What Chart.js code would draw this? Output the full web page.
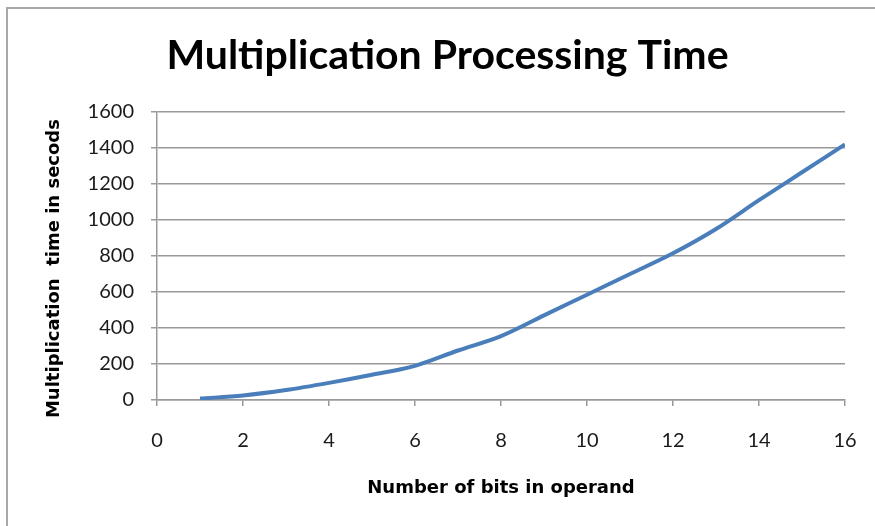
<!DOCTYPE html>
<html>
<head>
<meta charset="utf-8">
<script src="https://cdn.jsdelivr.net/npm/chart.js@4"></script>
<style>
  html, body { margin: 0; padding: 0; background: #fff; }
  #wrap { width: 875px; height: 526px; position: relative; }
</style>
</head>
<body>
<div id="wrap"><canvas id="c" width="875" height="526"></canvas></div>
<script>
const bits = [1, 2, 3, 4, 5, 6, 7, 8, 9, 10, 11, 12, 13, 14, 15, 16];
const seconds = [8, 25, 55, 95, 140, 190, 275, 355, 470, 585, 700, 815, 950, 1110, 1265, 1420];
const chartTitle = 'Multiplication Processing Time';
const xTitle = 'Number of bits in operand';
const yTitle = 'Multiplication  time in secods';

const TITLE_FONT = 'Lato, "Liberation Sans", sans-serif';
const AXIS_FONT = '"DejaVu Sans", "Open Sans", sans-serif';
const TICK_FONT = 'Lato, "Liberation Sans", sans-serif';

const frame = {
  id: 'frame',
  beforeDraw(chart) {
    const ctx = chart.ctx;
    ctx.save();
    ctx.fillStyle = '#fff';
    ctx.fillRect(0, 0, chart.width, chart.height);
    ctx.strokeStyle = '#a8a8a8';
    ctx.lineWidth = 2;
    ctx.beginPath();
    ctx.moveTo(7, chart.height);
    ctx.lineTo(7, 8);
    ctx.lineTo(chart.width, 8);
    ctx.stroke();
    ctx.restore();
  }
};

new Chart(document.getElementById('c'), {
  type: 'scatter',
  data: {
    datasets: [{
      data: bits.map((b, i) => ({ x: b, y: seconds[i] })),
      showLine: true,
      borderColor: '#4a7ebb',
      borderWidth: 4,
      pointRadius: 0,
      cubicInterpolationMode: 'monotone',
      fill: false
    }]
  },
  options: {
    responsive: false,
    animation: false,
    layout: { padding: { left: 20, right: 0, top: 0, bottom: 0 } },
    plugins: {
      legend: { display: false },
      tooltip: { enabled: false },
      title: {
        display: true,
        text: chartTitle,
        color: '#000',
        font: { family: TITLE_FONT, size: 41, weight: 'bold', lineHeight: 1.2 },
        padding: { top: 31, bottom: 31.8 }
      }
    },
    scales: {
      x: {
        type: 'linear',
        min: 0, max: 16,
        ticks: { stepSize: 2, color: '#1a1a1a', font: { family: TICK_FONT, size: 20 }, padding: 23 },
        grid: { drawOnChartArea: false, drawTicks: true, tickLength: 6, color: '#999', lineWidth: 1.5 },
        border: { display: true, color: '#999', width: 1.5 },
        title: { display: true, text: xTitle, color: '#000', font: { family: AXIS_FONT, size: 18, weight: 'bold', lineHeight: 1.2 }, padding: { top: 0, bottom: 27 } },
        afterFit(s) { s.height = 126; s.paddingLeft = 0; s.paddingRight = 0; }
      },
      y: {
        type: 'linear',
        min: 0, max: 1600,
        ticks: { stepSize: 200, color: '#1a1a1a', font: { family: TICK_FONT, size: 20 }, padding: 17, format: { useGrouping: false } },
        grid: { drawTicks: true, tickLength: 6, color: '#999', lineWidth: 1.5 },
        border: { display: true, color: '#999', width: 1.5 },
        title: { display: true, text: yTitle + '    ', color: '#000', font: { family: AXIS_FONT, size: 18, weight: 'bold', lineHeight: 1.2 }, padding: { top: 24, bottom: 0 } },
        afterFit(s) { s.width = 137; s.paddingTop = 0; s.paddingBottom = 0; }
      },
      y2: {
        type: 'linear',
        position: 'right',
        display: true,
        grid: { display: false },
        ticks: { display: false },
        border: { display: false },
        afterFit(s) { s.width = 30; }
      }
    }
  },
  plugins: [frame]
});
</script>
</body>
</html>
